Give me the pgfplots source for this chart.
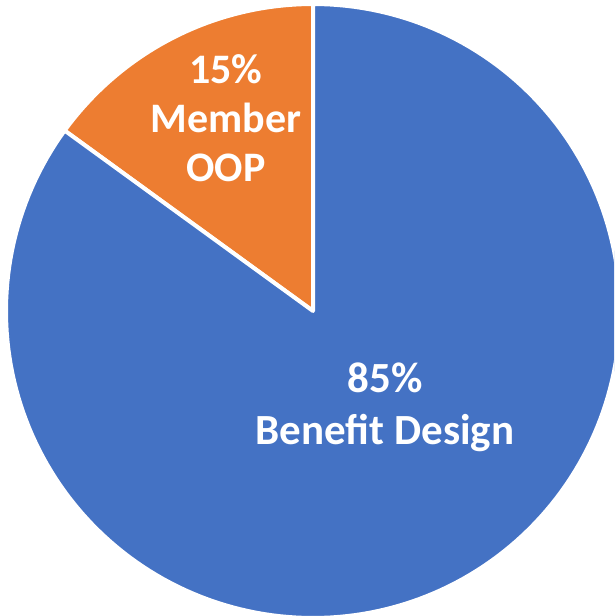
\documentclass[border=0pt]{standalone}
\usepackage{fontspec}
\setmainfont{Carlito}
\usepackage{pgfplots}
\usepackage{pgfplotstable}
\pgfplotsset{compat=1.18}
\definecolor{pieblue}{HTML}{4472C4}
\definecolor{pieorange}{HTML}{ED7D31}
\pgfplotstableread{
label value
MemberOOP 15
BenefitDesign 85
}\piedata
\pgfplotstablegetelem{0}{value}\of\piedata \edef\va{\pgfplotsretval}
\pgfplotstablegetelem{1}{value}\of\piedata \edef\vb{\pgfplotsretval}
\begin{document}
\begin{tikzpicture}
\begin{axis}[
  name=ax,
  width=614pt, height=616pt, scale only axis,
  xmin=0, xmax=614, ymin=0, ymax=616, y dir=reverse,
  hide axis, clip=true, clip bounding box=upper bound,
]
\pgfmathsetmacro{\aend}{90+3.6*\va}
\pgfmathsetmacro{\bend}{\aend+3.6*\vb}
\addplot[fill=pieorange, draw=white, line width=4pt, line join=round, domain=90:\aend, samples=60, variable=\t]
  ({313+307*cos(\t)},{311-307*sin(\t)}) -- (axis cs:313,311) -- cycle;
\addplot[fill=pieblue, draw=white, line width=4pt, line join=round, domain=\aend:\bend, samples=200, variable=\t]
  ({313+307*cos(\t)},{311-307*sin(\t)}) -- (axis cs:313,311) -- cycle;
\node[text=white, align=center, font=\fontsize{42}{49}\selectfont\bfseries] at (axis cs:226,118) {15\%\\Member\\OOP};
\node[text=white, align=center, font=\fontsize{43}{52}\selectfont\bfseries] at (axis cs:385,407) {85\%\\Benefit Design};
\end{axis}
\pgfresetboundingbox
\path (ax.south west) rectangle (ax.north east);
\end{tikzpicture}
\end{document}
